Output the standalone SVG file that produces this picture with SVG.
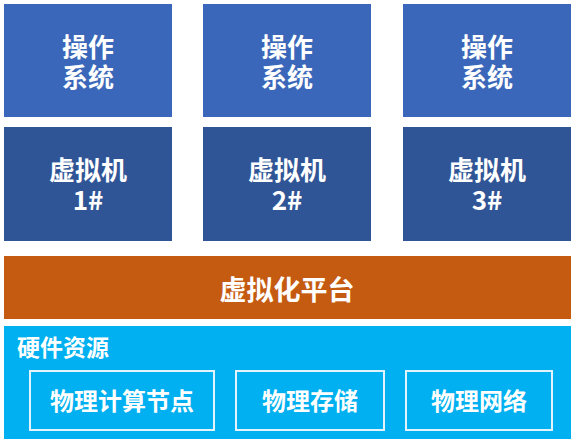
<svg xmlns="http://www.w3.org/2000/svg" width="576" height="446" viewBox="0 0 576 446">
<style>
.t{font-family:"Noto Sans CJK SC","Microsoft YaHei",sans-serif;font-weight:700;fill:#ffffff;text-anchor:middle}
.os{fill:#3A67B9}
.vm{fill:#2F5597}
.hw{fill:none;stroke:#E2F3FB;stroke-width:2}
</style>
<rect width="576" height="446" fill="#ffffff"/>
<g id="os1"><rect class="os" x="4" y="4" width="168" height="113"/><text class="t" font-size="26"><tspan x="88" y="57">操作</tspan><tspan x="88" y="87">系统</tspan></text></g>
<g id="os2"><rect class="os" x="203" y="4" width="168" height="113"/><text class="t" font-size="26"><tspan x="287" y="57">操作</tspan><tspan x="287" y="87">系统</tspan></text></g>
<g id="os3"><rect class="os" x="403" y="4" width="168" height="113"/><text class="t" font-size="26"><tspan x="487" y="57">操作</tspan><tspan x="487" y="87">系统</tspan></text></g>
<g id="vm1"><rect class="vm" x="4" y="127" width="168" height="114"/><text class="t" font-size="26"><tspan x="88" y="180">虚拟机</tspan><tspan x="88" y="210">1#</tspan></text></g>
<g id="vm2"><rect class="vm" x="203" y="127" width="168" height="114"/><text class="t" font-size="26"><tspan x="287" y="180">虚拟机</tspan><tspan x="287" y="210">2#</tspan></text></g>
<g id="vm3"><rect class="vm" x="403" y="127" width="168" height="114"/><text class="t" font-size="26"><tspan x="487" y="180">虚拟机</tspan><tspan x="487" y="210">3#</tspan></text></g>
<g id="platform"><rect x="4" y="256" width="567" height="63" fill="#C55A11"/><text class="t" x="287" y="300" font-size="27">虚拟化平台</text></g>
<g id="hardware"><rect x="4" y="326" width="567" height="113" fill="#00B0F0"/><text class="t" x="17" y="356" font-size="23" style="text-anchor:start">硬件资源</text>
<g id="compute"><rect class="hw" x="30" y="371" width="184" height="59"/><text class="t" x="122" y="410" font-size="24">物理计算节点</text></g>
<g id="storage"><rect class="hw" x="236" y="371" width="148" height="59"/><text class="t" x="310" y="410" font-size="24">物理存储</text></g>
<g id="network"><rect class="hw" x="406" y="371" width="146" height="59"/><text class="t" x="479" y="410" font-size="24">物理网络</text></g>
</g>
<g id="connectors"/>
</svg>
